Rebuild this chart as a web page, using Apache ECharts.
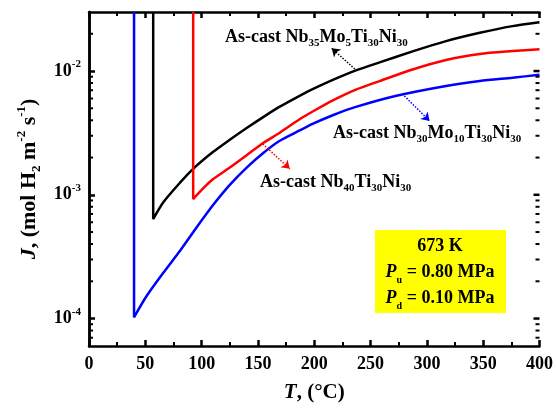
<!DOCTYPE html>
<html>
<head>
<meta charset="utf-8">
<script src="https://cdn.jsdelivr.net/npm/echarts@6/dist/echarts.min.js"></script>
<style>
  html, body { margin: 0; padding: 0; background: #fff; }
  #chart { width: 556px; height: 408px; }
</style>
</head>
<body>
<div id="chart"></div>
<script>
// Nb35Mo5Ti30Ni30 (black)
const blackT = [57, 57, 66, 81, 92.5, 110, 125, 140, 155, 169, 187, 199, 217, 237, 258, 288, 317, 347, 376, 400]
const blackJ = [0.03, 6.37e-4, 8.71e-4, 1.259e-3, 1.622e-3, 2.213e-3, 2.786e-3, 3.467e-3, 4.266e-3, 5.129e-3,
  6.31e-3, 7.161e-3, 8.511e-3, 1.0116e-2, 1.175e-2, 1.449e-2, 1.746e-2, 2.037e-2, 2.307e-2, 2.483e-2]

// Nb40Ti30Ni30 (red)
const redT = [92.5, 92.5, 100, 110, 125, 140, 155, 169, 187, 199, 217, 237, 258, 288, 317, 347, 376, 400]
const redJ = [0.03, 9.23e-4, 1.096e-3, 1.334e-3, 1.66e-3, 2.089e-3, 2.63e-3, 3.162e-3, 4.074e-3, 4.732e-3,
  5.821e-3, 7.079e-3, 8.299e-3, 1.035e-2, 1.23e-2, 1.374e-2, 1.449e-2, 1.503e-2]

// Nb30Mo10Ti30Ni30 (blue)
const blueT = [40, 40, 51, 66, 81, 95, 110, 125, 140, 155, 169, 187, 199, 217, 237, 273, 317, 347, 376, 400]
const blueJ = [0.03, 1.023e-4, 1.514e-4, 2.344e-4, 3.548e-4, 5.37e-4, 8.22e-4, 1.202e-3, 1.66e-3, 2.188e-3,
  2.723e-3, 3.311e-3, 3.758e-3, 4.416e-3, 5.129e-3, 6.31e-3, 7.568e-3, 8.299e-3, 8.831e-3, 9.333e-3]

// ticks of the log axis
const yMajorTicks = [1e-4, 1e-3, 1e-2]
const yMinorTicks = [7e-5, 8e-5, 9e-5, 2e-4, 3e-4, 4e-4, 5e-4, 6e-4, 7e-4, 8e-4, 9e-4,
  2e-3, 3e-3, 4e-3, 5e-3, 6e-3, 7e-3, 8e-3, 9e-3, 2e-2]

// arrows: [from, to] as [T, J]
const blackArrow = [[236, 0.01038], [215.5, 0.0153]]
const blueArrow = [[280, 0.00629], [302.4, 0.00395]]
const redArrow = [[154.3, 0.002576], [178.3, 0.00162]]

const FONT = 'Liberation Serif'

const pair = (xs, ys) => xs.map((x, i) => [x, ys[i]])

const supRich = {
  b: { fontFamily: FONT, fontWeight: 'bold', fontSize: 18, color: '#000', lineHeight: 24 },
  s: { fontFamily: FONT, fontWeight: 'bold', fontSize: 11, color: '#000', lineHeight: 12, verticalAlign: 'top' }
}

function labelRich(color) {
  return {
    n: { fontFamily: FONT, fontWeight: 'bold', fontSize: 18, color, lineHeight: 24 },
    d: { fontFamily: FONT, fontWeight: 'bold', fontSize: 11, color, lineHeight: 11, verticalAlign: 'bottom' }
  }
}

function initSeries(name, data, color, arrow) {
  return {
    name,
    type: 'line',
    data,
    showSymbol: false,
    symbol: 'none',
    smooth: 0.25,
    clip: true,
    lineStyle: { color, width: 2.5 },
    markLine: {
      silent: true,
      symbol: ['none', 'arrow'],
      symbolSize: 8,
      lineStyle: { color, type: 'dotted', width: 1.5 },
      label: { show: false },
      data: [[{ coord: arrow[0] }, { coord: arrow[1] }]]
    },
    z: 3
  }
}

const chart = echarts.init(document.getElementById('chart'))

const xCommon = {
  type: 'value',
  min: 0,
  max: 400,
  interval: 50,
  axisLine: { show: true, lineStyle: { color: '#000', width: 2.5 } },
  axisTick: { inside: true, length: 6, lineStyle: { color: '#000', width: 2.5 } },
  minorTick: { show: true, splitNumber: 2, length: 4, lineStyle: { color: '#000', width: 2 } },
  splitLine: { show: false }
}

const graphics = [
  {
    type: 'text', x: 225, y: 37,
    style: {
      text: '{n|As-cast Nb}{d|35}{n|Mo}{d|5}{n|Ti}{d|30}{n|Ni}{d|30}',
      rich: labelRich('#000'), verticalAlign: 'middle'
    }
  },
  {
    type: 'text', x: 333, y: 133,
    style: {
      text: '{n|As-cast Nb}{d|30}{n|Mo}{d|10}{n|Ti}{d|30}{n|Ni}{d|30}',
      rich: labelRich('#0000ff'), verticalAlign: 'middle'
    }
  },
  {
    type: 'text', x: 260, y: 182,
    style: {
      text: '{n|As-cast Nb}{d|40}{n|Ti}{d|30}{n|Ni}{d|30}',
      rich: labelRich('#ff0000'), verticalAlign: 'middle'
    }
  },
  {
    type: 'rect',
    shape: { x: 375, y: 230, width: 131, height: 83 },
    style: { fill: '#ffff00' },
    z: 10
  },
  {
    type: 'text', x: 440, y: 272, z: 11,
    style: {
      text: '{n|673 K}\n{i|P}{d|u}{n| = 0.80 MPa}\n{i|P}{d|d}{n| = 0.10 MPa}',
      align: 'center',
      verticalAlign: 'middle',
      rich: {
        n: { fontFamily: FONT, fontWeight: 'bold', fontSize: 18, color: '#000', lineHeight: 26 },
        i: { fontFamily: FONT, fontWeight: 'bold', fontStyle: 'italic', fontSize: 18, color: '#000', lineHeight: 26 },
        d: { fontFamily: FONT, fontWeight: 'bold', fontSize: 10, color: '#000', lineHeight: 10, verticalAlign: 'bottom' }
      }
    }
  }
]

const option = {
  animation: false,
  backgroundColor: '#fff',
  grid: { left: 89, right: 16, top: 12, bottom: 62, containLabel: false },
  xAxis: [
    Object.assign({}, xCommon, {
      position: 'bottom',
      name: '{i|T}{n|, (°C)}',
      nameLocation: 'middle',
      nameGap: 36,
      nameTextStyle: {
        rich: {
          i: { fontFamily: FONT, fontWeight: 'bold', fontStyle: 'italic', fontSize: 21, color: '#000' },
          n: { fontFamily: FONT, fontWeight: 'bold', fontSize: 21, color: '#000' }
        }
      },
      axisLabel: { margin: 9, fontFamily: FONT, fontWeight: 'bold', fontSize: 18, color: '#000' }
    }),
    Object.assign({}, xCommon, { position: 'top', axisLabel: { show: false } })
  ],
  yAxis: [
    {
      type: 'log',
      logBase: 10,
      min: 6e-5,
      max: 0.03,
      position: 'left',
      axisLine: { show: true, lineStyle: { color: '#000', width: 2.5 } },
      axisTick: { inside: true, length: 6, lineStyle: { color: '#000', width: 2.5 } },
      splitLine: { show: false },
      name: '{i|J}{n|, (mol H}{d|2}{n| m}{u|-2}{n| s}{u|-1}{n|)}',
      nameLocation: 'middle',
      nameRotate: 90,
      nameGap: 46,
      nameTextStyle: {
        rich: {
          i: { fontFamily: FONT, fontWeight: 'bold', fontStyle: 'italic', fontSize: 22, color: '#000', lineHeight: 28 },
          n: { fontFamily: FONT, fontWeight: 'bold', fontSize: 22, color: '#000', lineHeight: 28 },
          d: { fontFamily: FONT, fontWeight: 'bold', fontSize: 13, color: '#000', lineHeight: 13, verticalAlign: 'bottom' },
          u: { fontFamily: FONT, fontWeight: 'bold', fontSize: 13, color: '#000', lineHeight: 13, verticalAlign: 'top' }
        }
      },
      axisLabel: {
        margin: 8,
        showMinLabel: false,
        showMaxLabel: false,
        formatter: v => {
          const e = Math.log10(v)
          if (Math.abs(e - Math.round(e)) > 1e-6) return ''
          return '{b|10}{s|' + Math.round(e) + '}'
        },
        rich: supRich
      }
    },
    {
      // right frame line; its ticks are added below from the left log scale
      type: 'value',
      min: 0,
      max: 1,
      position: 'right',
      axisLine: { show: true, lineStyle: { color: '#000', width: 2.5 } },
      axisTick: { show: false },
      axisLabel: { show: false },
      splitLine: { show: false }
    }
  ],
  series: [
    initSeries('Nb35Mo5Ti30Ni30', pair(blackT, blackJ), '#000000', blackArrow),
    initSeries('Nb40Ti30Ni30', pair(redT, redJ), '#ff0000', redArrow),
    initSeries('Nb30Mo10Ti30Ni30', pair(blueT, blueJ), '#0000ff', blueArrow)
  ],
  graphic: graphics
}

chart.setOption(option)

// minor ticks (2..9 of each decade) on the left axis and all ticks on the right axis,
// placed through the chart's own y scale
const tickGraphics = []
function addTick(v, len, width, left) {
  const l = chart.convertToPixel({ gridIndex: 0 }, [0, v])
  const r = chart.convertToPixel({ gridIndex: 0 }, [400, v])
  const style = { stroke: '#000', lineWidth: width }
  if (left) tickGraphics.push({ type: 'line', shape: { x1: l[0], y1: l[1], x2: l[0] + len, y2: l[1] }, style, z: 5 })
  tickGraphics.push({ type: 'line', shape: { x1: r[0], y1: r[1], x2: r[0] - len, y2: r[1] }, style, z: 5 })
}
yMinorTicks.forEach(v => addTick(v, 4, 2, true))
yMajorTicks.forEach(v => addTick(v, 6, 2.5, false))
chart.setOption({ graphic: graphics.concat(tickGraphics) })
</script>
</body>
</html>
